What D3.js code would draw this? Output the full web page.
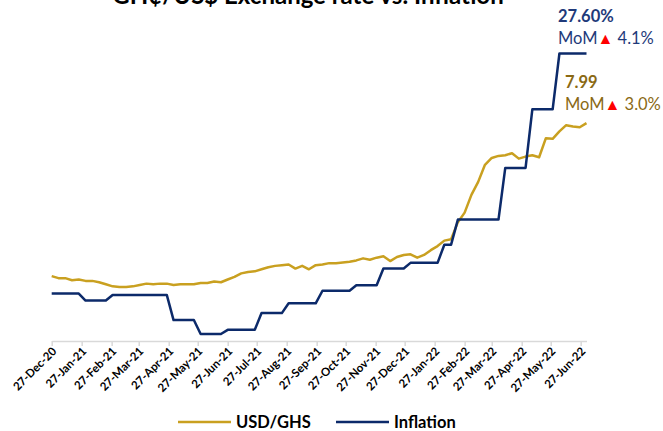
<!DOCTYPE html>
<html>
<head>
<meta charset="utf-8">
<script src="https://cdn.jsdelivr.net/npm/d3@7"></script>
<style>
  body { margin: 0; background: #fff; }
  svg text { font-family: Lato, "Noto Sans", sans-serif; }
</style>
</head>
<body>
<div id="chart"></div>
<script>
// weekly observations, first one on 27-Dec-20
var firstWeek = new Date(2020, 11, 27);

// USD/GHS weekly rate
var usdGhs = [5.75, 5.72, 5.72, 5.69, 5.70, 5.68, 5.68, 5.66, 5.63, 5.60,
              5.59, 5.59, 5.60, 5.62, 5.64, 5.63, 5.64, 5.64, 5.62, 5.63,
              5.63, 5.63, 5.65, 5.65, 5.67, 5.66, 5.70, 5.74, 5.79, 5.81,
              5.82, 5.85, 5.88, 5.90, 5.91, 5.92, 5.86, 5.90, 5.85, 5.91,
              5.92, 5.94, 5.94, 5.95, 5.96, 5.98, 6.01, 5.99, 6.02, 6.04,
              5.97, 6.03, 6.06, 6.07, 6.02, 6.06, 6.13, 6.19, 6.27, 6.29,
              6.54, 6.68, 6.94, 7.13, 7.38, 7.48, 7.51, 7.52, 7.55, 7.47,
              7.50, 7.52, 7.49, 7.77, 7.76, 7.87, 7.96, 7.94, 7.93, 7.99];

// latest published inflation (%) on each week
var inflation = [10.4, 10.4, 10.4, 10.4, 10.4, 9.9, 9.9, 9.9, 9.9, 10.3,
                 10.3, 10.3, 10.3, 10.3, 10.3, 10.3, 10.3, 10.3, 8.5, 8.5,
                 8.5, 8.5, 7.5, 7.5, 7.5, 7.5, 7.8, 7.8, 7.8, 7.8,
                 7.8, 9.0, 9.0, 9.0, 9.0, 9.7, 9.7, 9.7, 9.7, 9.7,
                 10.6, 10.6, 10.6, 10.6, 10.6, 11.0, 11.0, 11.0, 11.0, 12.2,
                 12.2, 12.2, 12.2, 12.6, 12.6, 12.6, 12.6, 12.6, 13.9, 13.9,
                 15.7, 15.7, 15.7, 15.7, 15.7, 15.7, 15.7, 19.4, 19.4, 19.4,
                 19.4, 23.6, 23.6, 23.6, 23.6, 27.6, 27.6, 27.6, 27.6, 27.6];

var tickCount = 19; // 27-Dec-20 .. 27-Jun-22, monthly
var seriesNames = ["USD/GHS", "Inflation"];
var lastInflation = "27.60%", inflationMoM = "4.1%";
var lastRate = "7.99", rateMoM = "3.0%";

var svgWidth = 663, svgHeight = 431;
var gold = "#C9A020", navy = "#0C2A6A";

var svg = d3.select("#chart").append("svg")
    .attr("width", svgWidth)
    .attr("height", svgHeight);

var dates = usdGhs.map(function(d, i) { return d3.timeDay.offset(firstWeek, 7 * i); });
var tickDates = d3.range(tickCount).map(function(i) { return d3.timeMonth.offset(firstWeek, i); });

var plotTop = 20, plotBottom = 341;

var x = d3.scaleTime()
    .domain([dates[0], dates[dates.length - 1]])
    .range([51.7, 586.5]);

// primary axis (rate) and secondary axis (inflation), both hidden
var yRate = d3.scaleLinear().domain([4.8, 9.5]).range([plotBottom, plotTop]);
var yInfl = d3.scaleLinear().domain([7, 30]).range([plotBottom, plotTop]);

// title (partly cut off at the top like the original)
svg.append("text")
    .attr("x", 308)
    .attr("y", 4)
    .attr("text-anchor", "middle")
    .style("font-size", "24px")
    .style("font-weight", "bold")
    .style("fill", "#000")
    .text("GH¢/US$ Exchange rate vs. Inflation");

// x axis
var xAxis = svg.append("g")
    .attr("transform", "translate(0," + plotBottom + ")")
    .call(d3.axisBottom(x)
        .tickValues(tickDates)
        .tickSize(5)
        .tickSizeOuter(0)
        .tickFormat(d3.timeFormat("%d-%b-%y")));

xAxis.select(".domain").attr("stroke", "#D9D9D9").attr("stroke-width", 1.5);
xAxis.selectAll(".tick line").attr("stroke", "#D9D9D9").attr("stroke-width", 1.5);
xAxis.selectAll(".tick text")
    .attr("y", 0)
    .attr("dy", 0)
    .attr("text-anchor", "end")
    .attr("transform", "translate(5,11) rotate(-45)")
    .style("font-size", "11.5px")
    .style("font-weight", "bold")
    .style("font-family", "Lato, sans-serif")
    .style("fill", "#000");

// lines
var rateLine = d3.line()
    .x(function(d, i) { return x(dates[i]); })
    .y(function(d) { return yRate(d); });

var inflLine = d3.line()
    .x(function(d, i) { return x(dates[i]); })
    .y(function(d) { return yInfl(d); });

svg.append("path")
    .datum(usdGhs)
    .attr("d", rateLine)
    .attr("fill", "none")
    .attr("stroke", gold)
    .attr("stroke-width", 2.5)
    .attr("stroke-linejoin", "round");

svg.append("path")
    .datum(inflation)
    .attr("d", inflLine)
    .attr("fill", "none")
    .attr("stroke", navy)
    .attr("stroke-width", 2.5)
    .attr("stroke-linejoin", "round");

// end-of-series call-outs
function callout(xPos, yPos, value, mom, color) {
  svg.append("text")
      .attr("x", xPos).attr("y", yPos)
      .style("font-size", "16.5px")
      .style("font-weight", "bold")
      .style("fill", color)
      .text(value);
  var t = svg.append("text")
      .attr("x", xPos).attr("y", yPos + 22)
      .style("font-size", "16.5px")
      .style("fill", color);
  t.append("tspan").text("MoM");
  t.append("tspan").style("fill", "#FF0000").style("font-size", "16px").text("▲");
  t.append("tspan").text(" " + mom);
}
callout(558, 22, lastInflation, inflationMoM, "#1F3A7A");
callout(565, 88, lastRate, rateMoM, "#8A6914");

// legend
var legend = svg.append("g").attr("transform", "translate(0,422)");
var legendItems = [
  {name: seriesNames[0], color: gold, x0: 178, x1: 231},
  {name: seriesNames[1], color: navy, x0: 336, x1: 389}
];
legendItems.forEach(function(d) {
  legend.append("line")
      .attr("x1", d.x0).attr("x2", d.x1)
      .attr("y1", 0).attr("y2", 0)
      .attr("stroke", d.color)
      .attr("stroke-width", 2.5);
  legend.append("text")
      .attr("x", d.x1 + 5)
      .attr("y", 5.5)
      .style("font-size", "16.5px")
      .style("font-weight", "bold")
      .style("fill", "#000")
      .text(d.name);
});
</script>
</body>
</html>
